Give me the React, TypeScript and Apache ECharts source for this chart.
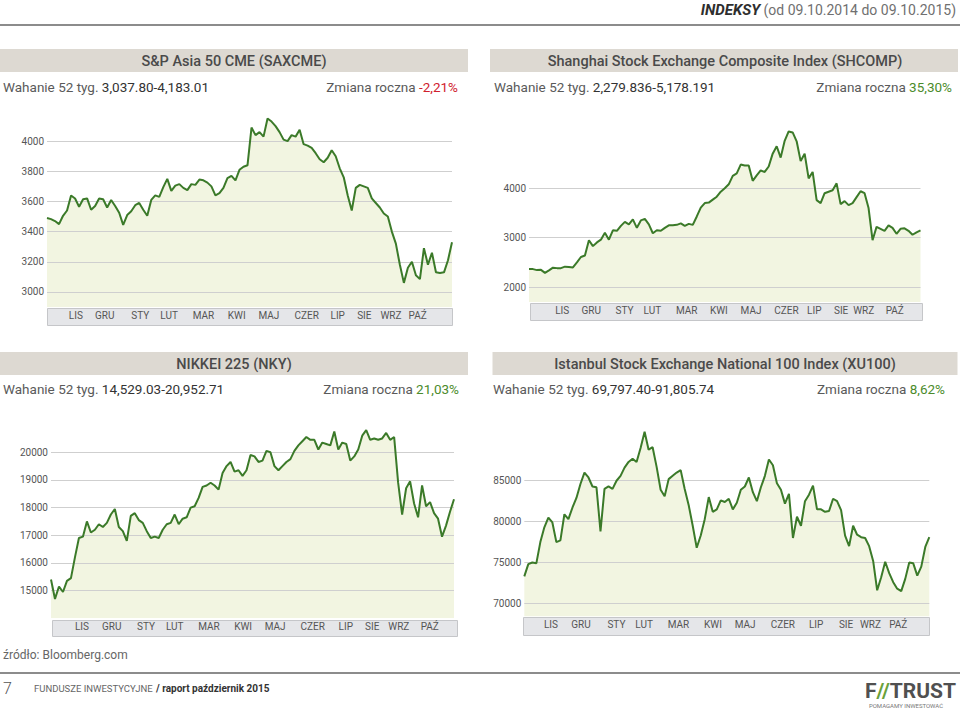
import React, { useEffect, useRef } from 'react';
import * as echarts from 'echarts';

const F = 'Roboto, "Noto Sans", sans-serif';
const LINE = '#3b7a29';
const FILL = '#f2f5e1';
const GRIDC = '#cfcfcf';
const RED = '#d0202e';
const GREEN = '#4b8b2b';

const months = ['LIS', 'GRU', 'STY', 'LUT', 'MAR', 'KWI', 'MAJ', 'CZER', 'LIP', 'SIE', 'WRZ', 'PAŹ'];

// S&P Asia 50 CME (SAXCME)
const saxcmeValues = [
  3490, 3483, 3470, 3450, 3505, 3540, 3640, 3620, 3565, 3615,
  3620, 3545, 3570, 3620, 3615, 3560, 3610, 3570, 3525, 3445,
  3510, 3535, 3575, 3590, 3545, 3505, 3610, 3640, 3630, 3695,
  3750, 3670, 3705, 3715, 3690, 3675, 3715, 3710, 3745, 3740,
  3725, 3700, 3640, 3655, 3690, 3755, 3770, 3740, 3810, 3830,
  3840, 4090, 4040, 4060, 4030, 4150, 4130, 4100, 4060, 4010,
  4000, 4040, 4030, 4075, 3980, 3970, 3955, 3920, 3880, 3860,
  3890, 3940, 3900, 3820, 3760, 3640, 3540, 3690, 3710, 3700,
  3690, 3620, 3590, 3560, 3520, 3500, 3400, 3320, 3180, 3060,
  3160, 3200, 3110, 3085, 3290, 3180, 3260, 3130, 3125, 3130,
  3210, 3330,
];
const saxcmeTicks = [3000, 3200, 3400, 3600, 3800, 4000];
const saxcmeMonthDays = [26, 52, 84, 110, 141, 171, 200, 234, 262, 286, 310, 334];

// Shanghai Stock Exchange Composite Index (SHCOMP)
const shcompValues = [
  2365, 2365, 2345, 2350, 2290, 2340, 2395, 2385, 2385, 2415,
  2410, 2400, 2500, 2610, 2640, 2950, 2830, 2905, 2960, 3100,
  2960, 3150, 3140, 3240, 3320, 3270, 3370, 3200, 3350, 3380,
  3270, 3090, 3150, 3140, 3200, 3250, 3250, 3260, 3290, 3240,
  3280, 3260, 3430, 3610, 3700, 3710, 3770, 3830, 3930, 4000,
  4080, 4250, 4300, 4480, 4460, 4460, 4150, 4260, 4360, 4330,
  4440, 4700, 4850, 4620, 4960, 5150, 5130, 4950, 4550, 4700,
  4200, 4330, 3760, 3700, 3900, 3930, 3960, 4100, 3680, 3740,
  3660, 3700, 3820, 3940, 3900, 3600, 2950, 3220, 3180, 3140,
  3250, 3200, 3080, 3180, 3190, 3140, 3060, 3110, 3150,
];
const shcompTicks = [2000, 3000, 4000];
const shcompMonthDays = [31, 58, 89, 115, 147, 177, 207, 240, 266, 291, 312, 341];

// NIKKEI 225 (NKY)
const nkyValues = [
  15400, 14700, 15150, 14950, 15350, 15450, 16200, 16900, 16950, 17500,
  17100, 17200, 17400, 17300, 17450, 17750, 17950, 17300, 17150, 16800,
  17700, 17800, 17550, 17450, 17150, 16900, 16950, 16900, 17200, 17400,
  17450, 17750, 17400, 17600, 17650, 18000, 18050, 18350, 18750, 18800,
  18900, 18800, 18650, 19250, 19500, 19650, 19300, 19350, 19150, 19350,
  19900, 19850, 19650, 19700, 20050, 20000, 19500, 19350, 19500, 19650,
  19750, 20050, 20250, 20400, 20550, 20450, 20450, 20100, 20350, 20300,
  20250, 20750, 20100, 20350, 20300, 19700, 19850, 20100, 20600, 20800,
  20450, 20500, 20450, 20500, 20700, 20450, 20550, 18900, 17750, 18700,
  18950, 18150, 17650, 18800, 18050, 18200, 17800, 17600, 16950, 17350,
  17850, 18300,
];
const nkyTicks = [15000, 16000, 17000, 18000, 19000, 20000];
const nkyMonthDays = [28, 55, 86, 112, 143, 174, 203, 237, 267, 291, 315, 343];

// Istanbul Stock Exchange National 100 Index (XU100)
const xu100Values = [
  73300, 74800, 75000, 74900, 77500, 79300, 80500, 79900, 77500, 77700,
  80900, 80300, 81700, 82900, 84600, 86000, 85400, 84300, 84200, 78800,
  84000, 84300, 84000, 85000, 85600, 86600, 87300, 87700, 87300, 89000,
  91000, 88800, 89100, 86700, 83900, 83100, 85200, 85600, 86000, 86300,
  84000, 82000, 79500, 76800, 78300, 80300, 83000, 81200, 81500, 82600,
  82400, 82800, 81500, 82300, 83900, 84300, 85400, 83600, 82500, 84200,
  85600, 87600, 86900, 84700, 83900, 82200, 83400, 78000, 80600, 79500,
  82500, 83300, 84400, 81500, 81500, 81200, 81300, 82800, 82500, 81400,
  78300, 77000, 79500, 78400, 78100, 78000, 77000, 75200, 71600, 73200,
  75100, 73700, 72600, 71800, 71500, 73000, 75000, 74900, 73400, 74500,
  76900, 78100,
];
const xu100Ticks = [70000, 75000, 80000, 85000];
const xu100MonthDays = [24, 51, 83, 108, 139, 170, 199, 233, 263, 290, 312, 337];

const panels = [
  {
    title: 'S&P Asia 50 CME (SAXCME)', range: '3,037.80-4,183.01', change: '-2,21%', changeColor: RED,
    values: saxcmeValues, ticks: saxcmeTicks, monthDays: saxcmeMonthDays, yMin: 2900, yMax: 4200,
    head: { x: 0, y: 49, w: 468, cx: 234 }, infoY: 87, infoX: 3, changeRight: 458,
    grid: { left: 47, top: 111, width: 405, height: 196 },
    band: { x: 47.5, y: 308.5, w: 405, h: 17 }, shift: 3.5,
  },
  {
    title: 'Shanghai Stock Exchange Composite Index (SHCOMP)', range: '2,279.836-5,178.191', change: '35,30%', changeColor: GREEN,
    values: shcompValues, ticks: shcompTicks, monthDays: shcompMonthDays, yMin: 1700, yMax: 5300,
    head: { x: 490, y: 49, w: 468, cx: 725 }, infoY: 87, infoX: 494, changeRight: 952,
    grid: { left: 529, top: 124, width: 391.5, height: 178 },
    band: { x: 530.5, y: 303.5, w: 392, h: 17 }, shift: 0,
  },
  {
    title: 'NIKKEI 225 (NKY)', range: '14,529.03-20,952.71', change: '21,03%', changeColor: GREEN,
    values: nkyValues, ticks: nkyTicks, monthDays: nkyMonthDays, yMin: 14000, yMax: 21000,
    head: { x: 0, y: 352, w: 468, cx: 234 }, infoY: 389, infoX: 3, changeRight: 459,
    grid: { left: 51, top: 424.6, width: 403, height: 193.7 },
    band: { x: 52.5, y: 620.5, w: 405, h: 16 }, shift: 4,
  },
  {
    title: 'Istanbul Stock Exchange National 100 Index (XU100)', range: '69,797.40-91,805.74', change: '8,62%', changeColor: GREEN,
    values: xu100Values, ticks: xu100Ticks, monthDays: xu100MonthDays, yMin: 68400, yMax: 92000,
    head: { x: 492.5, y: 352, w: 465, cx: 725 }, infoY: 389, infoX: 493, changeRight: 945,
    grid: { left: 524.3, top: 423.5, width: 405, height: 193 },
    band: { x: 523.5, y: 617.5, w: 406, h: 18 }, shift: 3,
  },
];

export default function App() {
  const ref = useRef<HTMLDivElement>(null);

  useEffect(() => {
    if (!ref.current) return;
    const chart = echarts.init(ref.current, undefined, { renderer: 'svg' });

    const elements: any[] = [];
    // top header
    elements.push({
      type: 'text',
      style: {
        text: '{b|INDEKSY} {n|(od 09.10.2014 do 09.10.2015)}',
        x: 956, y: 10, textAlign: 'right', textVerticalAlign: 'middle',
        rich: {
          b: { fontFamily: F, fontSize: 15, fontWeight: 'bold', fontStyle: 'italic', fill: '#2e2e2e' },
          n: { fontFamily: F, fontSize: 14, fill: '#707070' },
        },
      },
    });
    elements.push({ type: 'rect', shape: { x: 0, y: 24, width: 960, height: 2 }, style: { fill: '#8c8c8c' } });

    panels.forEach((p) => {
      elements.push({ type: 'rect', shape: { x: p.head.x, y: p.head.y, width: p.head.w, height: 23 }, style: { fill: '#ddd9d2' } });
      elements.push({
        type: 'text',
        style: {
          text: p.title, x: p.head.cx, y: p.head.y + 12, textAlign: 'center', textVerticalAlign: 'middle',
          fontFamily: F, fontSize: 14.5, fontWeight: 500, fill: '#4a4a4a',
        },
      });
      elements.push({
        type: 'text',
        style: {
          text: '{a|Wahanie 52 tyg.} {b|' + p.range + '}', x: p.infoX, y: p.infoY, textAlign: 'left', textVerticalAlign: 'middle',
          rich: {
            a: { fontFamily: F, fontSize: 13.5, fill: '#5a5a5a' },
            b: { fontFamily: F, fontSize: 13.5, fill: '#333333' },
          },
        },
      });
      elements.push({
        type: 'text',
        style: {
          text: '{a|Zmiana roczna} {c|' + p.change + '}', x: p.changeRight, y: p.infoY, textAlign: 'right', textVerticalAlign: 'middle',
          rich: {
            a: { fontFamily: F, fontSize: 13.5, fill: '#5a5a5a' },
            c: { fontFamily: F, fontSize: 13.5, fill: p.changeColor },
          },
        },
      });
      elements.push({
        type: 'rect', z: 1,
        shape: { x: p.band.x, y: p.band.y, width: p.band.w, height: p.band.h },
        style: { fill: '#e5e6e9', stroke: '#c5c6c9', lineWidth: 1 },
      });
    });

    // footer
    elements.push({ type: 'text', style: { text: 'źródło: Bloomberg.com', x: 3, y: 655, textVerticalAlign: 'middle', fontFamily: F, fontSize: 12, fill: '#666666' } });
    elements.push({ type: 'rect', shape: { x: 0, y: 672, width: 960, height: 2 }, style: { fill: '#8c8c8c' } });
    elements.push({ type: 'text', style: { text: '7', x: 3, y: 688, textVerticalAlign: 'middle', fontFamily: F, fontSize: 16, fontWeight: 300, fill: '#555555' } });
    elements.push({
      type: 'text',
      style: {
        text: '{a|FUNDUSZE INWESTYCYJNE} {b|/ raport październik 2015}', x: 34, y: 688, textVerticalAlign: 'middle',
        rich: {
          a: { fontFamily: F, fontSize: 9.5, fill: '#666666' },
          b: { fontFamily: F, fontSize: 10, fontWeight: 'bold', fill: '#333333' },
        },
      },
    });
    elements.push({
      type: 'text',
      style: {
        text: '{f|F}{s|//}{f|TRUST}', x: 956, y: 691, textAlign: 'right', textVerticalAlign: 'middle',
        rich: {
          f: { fontFamily: F, fontSize: 21, fontWeight: 'bold', fill: '#505050' },
          s: { fontFamily: F, fontSize: 21, fontWeight: 'bold', fill: '#6aa13a' },
        },
      },
    });
    elements.push({
      type: 'text',
      style: { text: 'POMAGAMY INWESTOWAĆ', x: 906, y: 705, textAlign: 'center', textVerticalAlign: 'middle', fontFamily: F, fontSize: 6, fill: '#777777' },
    });

    const grids: any[] = [];
    const xAxes: any[] = [];
    const yAxes: any[] = [];
    const series: any[] = [];

    panels.forEach((p, i) => {
      grids.push({ left: p.grid.left, top: p.grid.top, width: p.grid.width, height: p.grid.height, containLabel: false });
      const md = p.monthDays;
      xAxes.push({
        type: 'value', gridIndex: i, min: 0, max: 365, z: 10,
        axisLine: { show: false }, axisTick: { show: false }, splitLine: { show: false },
        axisLabel: {
          customValues: md, margin: 3, fontFamily: F, fontSize: 10, color: '#555555',
          formatter: (v: number) => { const k = md.indexOf(v); return k >= 0 ? months[k] : ''; },
        },
      });
      yAxes.push({
        type: 'value', gridIndex: i, min: p.yMin, max: p.yMax, z: 10,
        axisLine: { show: false }, axisTick: { show: false }, splitLine: { show: false },
        axisLabel: {
          customValues: p.ticks, margin: 3, fontFamily: F, fontSize: 10, color: '#555555',
          padding: [0, 0, p.shift * 2, 0],
          formatter: (v: number) => String(v),
        },
      });
      const n = p.values.length;
      const data = p.values.map((v, k) => [(k * 365) / (n - 1), v]);
      series.push({
        type: 'line', xAxisIndex: i, yAxisIndex: i, data, symbol: 'none', silent: true, z: 1,
        lineStyle: { width: 0, opacity: 0 },
        areaStyle: { color: FILL, opacity: 1, origin: 'start' },
        markLine: {
          silent: true, symbol: 'none', z: 2, animation: false,
          label: { show: false },
          lineStyle: { color: GRIDC, width: 1, type: 'solid' },
          emphasis: { disabled: true },
          data: p.ticks.map((t) => ({ yAxis: t })),
        },
      });
      series.push({
        type: 'line', xAxisIndex: i, yAxisIndex: i, data, symbol: 'none', silent: true, z: 3,
        lineStyle: { color: LINE, width: 2 },
      });
    });

    chart.setOption({
      animation: false,
      backgroundColor: '#ffffff',
      textStyle: { fontFamily: F },
      grid: grids,
      xAxis: xAxes,
      yAxis: yAxes,
      series,
      graphic: { elements },
    });

    return () => chart.dispose();
  }, []);

  return <div ref={ref} style={{ position: 'absolute', left: 0, top: 0, width: 960, height: 710 }} />;
}
